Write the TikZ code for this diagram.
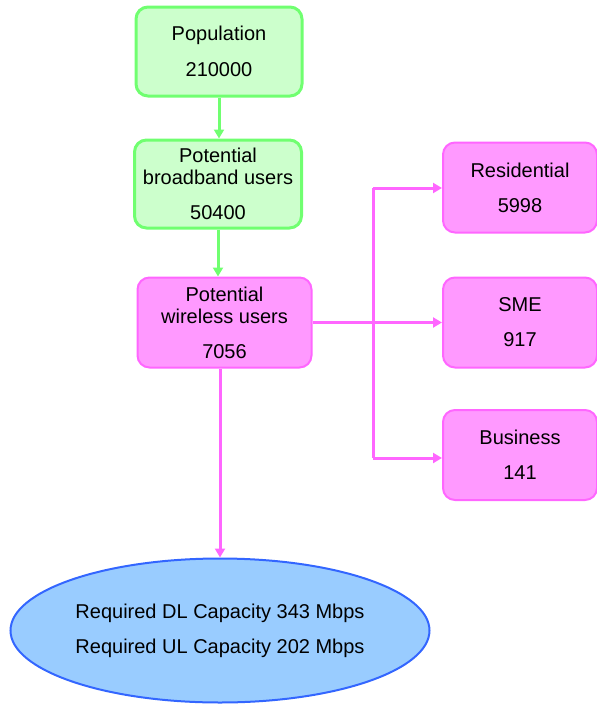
\documentclass[tikz,border=0pt]{standalone}
\usepackage{fontspec}
\setmainfont{Liberation Sans}
\usetikzlibrary{shapes.geometric,arrows.meta}
\definecolor{grfill}{HTML}{CCFFCC}
\definecolor{grline}{HTML}{70FF70}
\definecolor{pkfill}{HTML}{FF99FF}
\definecolor{pkline}{HTML}{FF66FF}
\definecolor{blfill}{HTML}{99CCFF}
\definecolor{blline}{HTML}{3366FF}
\begin{document}
\begin{tikzpicture}[x=1pt, y=-1pt,
    box/.style={rectangle, rounded corners=12pt, inner sep=0pt, align=center,
        font=\fontsize{20}{22}\selectfont},
    grbox/.style={box, draw=grline, fill=grfill, line width=3pt},
    pkbox/.style={box, draw=pkline, fill=pkfill, line width=2pt},
    grarr/.style={draw=grline, line width=3pt, -{Triangle[width=10pt,length=9pt]}},
    pkarr/.style={draw=pkline, line width=3pt, -{Triangle[width=10pt,length=9pt]}}
]
\useasboundingbox (0,0) rectangle (597,705);
% Chain of users
\node[grbox, minimum width=166pt, minimum height=89pt] (pop) at (219, 51.5)
    {Population\\[14pt]210000};
\node[grbox, minimum width=167pt, minimum height=88pt] (bb) at (218, 184)
    {Potential\\broadband users\\[13pt]50400};
\node[pkbox, minimum width=174pt, minimum height=90pt] (wl) at (224.5, 322.5)
    {Potential\\wireless users\\[13pt]7056};

% User types
\node[pkbox, minimum width=154pt, minimum height=90pt] (res) at (520, 187.5)
    {Residential\\[13pt]5998};
\node[pkbox, minimum width=154pt, minimum height=90pt] (sme) at (520, 322.5)
    {SME\\[13pt]917};
\node[pkbox, minimum width=154pt, minimum height=90pt] (bus) at (520, 455)
    {Business\\[13pt]141};

% Capacity
\node[ellipse, draw=blline, fill=blfill, line width=2pt, minimum width=419pt,
    minimum height=144pt, inner sep=0pt, align=center,
    font=\fontsize{20}{22}\selectfont] (cap) at (220, 630.5)
    {Required DL Capacity 343 Mbps\\[13pt]Required UL Capacity 202 Mbps};

% Connectors
\coordinate (top) at (373, 188);
\coordinate (bot) at (373, 458);
\draw[grarr] (pop.south) -- (pop.south |- bb.north);
\draw[grarr] (bb.south) -- (bb.south |- wl.north);
\draw[pkarr] (cap.north |- wl.south) -- (cap.north);
\draw[pkarr] (wl.east) -- (sme.west);
\draw[draw=pkline, line width=3pt] (top) -- (bot);
\draw[pkarr] (top) -- (res.west |- top);
\draw[pkarr] (bot) -- (bus.west |- bot);
\end{tikzpicture}
\end{document}
